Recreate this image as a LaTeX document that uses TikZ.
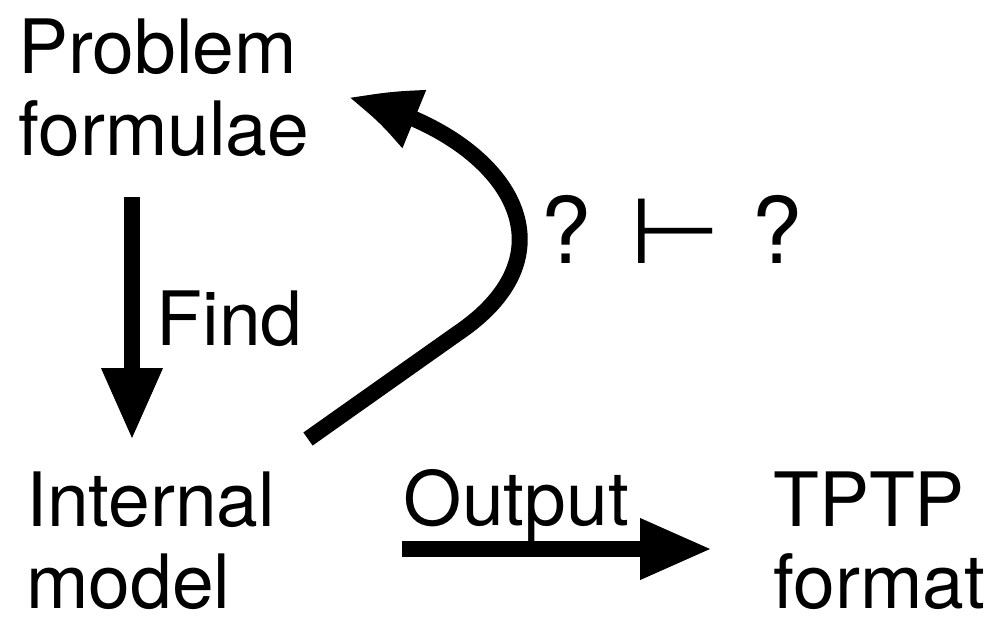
\documentclass[tikz,border=0pt]{standalone}
\usepackage{fontspec}
\setmainfont{TeX Gyre Heros}
\newfontfamily\symfont{DejaVu Sans}
\usetikzlibrary{arrows.meta,bending}
\newcommand{\bigtext}{\fontsize{75}{82}\selectfont}

\begin{document}
\begin{tikzpicture}[x=1pt, y=-1pt,
    lbl/.style={inner sep=0, anchor=base west, align=left, font=\bigtext},
    bigarrow/.style={line width=16pt, -{Triangle[length=72pt, width=57pt, bend]}}]
    \useasboundingbox (0,0) rectangle (1008,633); % frame

    \node[lbl] (problem) at (18,155) {Problem\\formulae};
    \node[lbl] (internal) at (26,608) {Internal\\model};
    \node[lbl] (tptp) at (773,608) {TPTP\\format};
    \node[lbl] (find) at (156.5,345) {Find};
    \node[lbl] (output) at (403.5,525) {Output};
    \node[lbl, font=\fontsize{92}{100}\selectfont] (entails) at (540,263) {?\hspace{38pt}\scalebox{1.15}[1]{\symfont ⊢}\hspace{30pt}?};

    \coordinate (find-top) at (132,197);
    \coordinate (find-tip) at (132,440);
    \coordinate (output-left) at (402,549);
    \coordinate (output-tip) at (712,549);
    \coordinate (loop-start) at (308,439);
    \coordinate (loop-kink) at (458,333);
    \coordinate (loop-tip) at (348,98);

    \draw[bigarrow] (find-top) -- (find-tip);
    \draw[bigarrow] (output-left) -- (output-tip);
    \draw[bigarrow] (loop-start) -- (loop-kink) .. controls (585,247) and (500,130) .. (loop-tip);
\end{tikzpicture}
\end{document}
